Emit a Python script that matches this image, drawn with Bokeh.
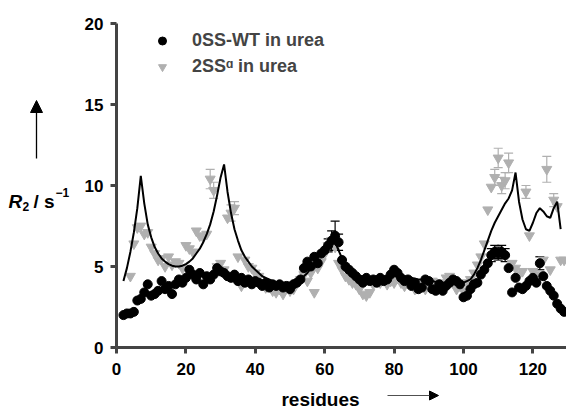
from bokeh.plotting import figure
from bokeh.models import (FixedTicker, Legend, LegendItem, Label, Arrow, NormalHead,
                          Whisker, TeeHead, ColumnDataSource, LinearAxis)
from bokeh.embed import file_html
from bokeh.resources import INLINE

# ---------------- data ----------------
wt_res = list(range(2, 130))
wt_r2 = [2.0, 2.1, 2.1, 2.2, 2.9, 3.0, 3.4, 3.9, 3.2, 3.3, 3.5, 4.1, 3.6, 3.8, 3.3, 3.9,
         4.2, 4.0, 4.3, 4.8, 4.5, 4.2, 4.6, 3.9, 4.4, 4.2, 4.5, 4.9, 4.7, 4.6, 4.4, 4.3,
         4.5, 4.1, 4.3, 4.0, 4.2, 3.9, 4.1, 4.0, 3.8, 4.0, 3.7, 3.9, 3.8, 3.9, 3.7, 3.8,
         3.6, 3.9, 4.0, 4.2, 4.9, 5.3, 5.0, 5.6, 5.2, 5.8, 6.0, 6.3, 6.6, 6.9, 6.5, 5.4,
         5.0, 4.8, 4.6, 4.4, 4.2, 4.0, 4.3, 4.1, 4.2, 4.0, 4.3, 4.1, 4.2, 4.5, 4.8, 4.6,
         4.3, 4.1, 4.2, 3.8, 4.0, 3.6, 3.7, 4.2, 4.1, 3.6, 3.5, 3.9, 3.5, 3.8, 4.0, 4.2,
         4.1, 3.9, 3.1, 3.2, 3.6, 3.9, 4.0, 4.5, 4.8, 5.2, 5.7, 5.9, 5.8, 5.9, 5.7, 4.9,
         3.4, 4.3, 3.7, 3.6, 3.8, 4.1, 4.3, 4.0, 5.2, 4.4, 3.8, 3.5, 3.2, 2.7, 2.4, 2.2]

ss_res = list(range(4, 130))
ss_r2 = [4.4, 6.4, 7.4, 7.5, 7.0, 7.1, 6.2, 5.8, 5.4, 5.5, 5.0, 5.6, 5.1, 5.3, 5.2, 4.9,
         6.3, 6.1, 5.9, 7.2, 6.9, 6.8, 7.0, 10.4, 9.7, 5.0, 5.2, 4.8, 8.0, 8.3, 8.6, 5.6,
         3.8, 5.4, 5.0, 4.9, 4.6, 4.4, 4.0, 3.7, 3.8, 3.5, 3.4, 3.6, 3.3, 3.7, 3.5, 3.6,
         4.0, 4.2, 4.5, 4.1, 4.6, 3.4, 4.9, 5.3, 5.8, 6.3, 6.6, 6.2, 5.2, 4.8, 4.4, 4.2,
         4.0, 3.9, 3.6, 3.3, 3.2, 3.4, 3.9, 4.1, 4.0, 4.2, 3.9, 4.1, 4.0, 4.3, 4.0, 3.8,
         4.1, 3.9, 3.6, 4.0, 3.8, 3.6, 3.9, 4.1, 3.8, 4.0, 3.7, 4.3, 4.4, 4.0, 3.6, 3.8,
         3.5, 4.0, 4.2, 4.6, 5.1, 5.6, 6.4, 8.5, 9.9, 10.5, 11.7, 10.0, 10.3, 11.4, 5.2,
         4.9, 4.5, 4.7, 9.6, 6.9, 4.7, 4.3, 4.5, 5.4, 11.0, 4.8, 9.1, 8.7, 5.4, 5.4]

fit_res = list(range(2, 130))
fit_r2 = [4.1, 4.9, 5.9, 7.1, 8.6, 10.6, 8.9, 7.6, 6.8, 6.2, 5.8, 5.5, 5.3, 5.15, 5.05,
          5.0, 5.0, 5.05, 5.15, 5.3, 5.5, 5.8, 6.1, 6.5, 7.0, 7.6, 8.4, 9.4, 10.5, 11.3,
          9.6, 8.3, 7.3, 6.6, 6.0, 5.6, 5.3, 5.0, 4.8, 4.6, 4.4, 4.3, 4.2, 4.1, 4.05, 4.0,
          4.0, 4.0, 4.0, 4.05, 4.1, 4.2, 4.4, 4.6, 4.9, 5.2, 5.6, 6.0, 6.3, 6.6, 6.7, 6.5,
          6.0, 5.5, 5.1, 4.8, 4.6, 4.5, 4.4, 4.35, 4.3, 4.3, 4.3, 4.3, 4.35, 4.4, 4.4, 4.45,
          4.5, 4.5, 4.45, 4.4, 4.35, 4.3, 4.25, 4.2, 4.2, 4.15, 4.1, 4.1, 4.05, 4.0, 4.0,
          4.0, 4.0, 4.0, 4.0, 4.0, 4.0, 4.1, 4.2, 4.5, 4.9, 5.4, 6.0, 6.6, 7.2, 7.7, 8.1,
          8.5, 8.9, 9.2, 9.7, 10.8, 9.0, 7.9, 7.3, 7.2, 7.7, 8.3, 8.6, 8.4, 8.1, 8.0, 8.6,
          9.0, 7.3]

wt_err_res = [61, 62, 63, 64, 108, 109, 110, 111, 112, 122]
wt_err_val = [6.3, 6.6, 6.9, 6.5, 5.7, 5.9, 5.8, 5.9, 5.7, 5.2]
wt_err = [0.4, 0.6, 0.9, 0.5, 0.4, 0.4, 0.4, 0.4, 0.4, 0.4]

ss_err_res = [27, 28, 33, 34, 109, 110, 111, 112, 113, 118, 124, 126]
ss_err_val = [10.4, 9.7, 8.3, 8.6, 10.5, 11.7, 10.0, 10.3, 11.4, 9.6, 11.0, 9.1]
ss_err = [0.6, 0.5, 0.5, 0.4, 0.5, 0.6, 0.5, 0.5, 0.6, 0.4, 0.8, 0.4]

x_ticks = [0, 20, 40, 60, 80, 100, 120]
y_ticks = [0, 5, 10, 15, 20]

FONT = "Liberation Sans"
GREY = "#b0b0b0"
AXIS = "#444444"

W, H = 566, 410
X0, XS, Y0, YS = 116, 3.47, 347, 16.2

p = figure(width=W, height=H,
           x_range=(-X0 / XS, (W - X0) / XS),
           y_range=((Y0 - H) / YS, Y0 / YS),
           x_axis_location=None, y_axis_location=None,
           output_backend="svg", toolbar_location=None, min_border=0)
p.outline_line_color = None
p.xgrid.visible = False
p.ygrid.visible = False
p.background_fill_color = "white"
p.border_fill_color = "white"

xaxis = LinearAxis(fixed_location=0, bounds=(0, (W - X0) / XS))
yaxis = LinearAxis(fixed_location=0, bounds=(0, 20))
for ax, ticks in ((xaxis, x_ticks), (yaxis, y_ticks)):
    ax.ticker = FixedTicker(ticks=ticks)
    ax.axis_line_color = AXIS
    ax.axis_line_width = 3
    ax.major_tick_line_color = AXIS
    ax.major_tick_line_width = 3
    ax.major_tick_out = 6
    ax.major_tick_in = 0
    ax.minor_tick_line_color = None
    ax.major_label_text_font = FONT
    ax.major_label_text_font_style = "bold"
    ax.major_label_text_font_size = "17px"
    ax.major_label_text_color = "black"
xaxis.major_label_standoff = 9
yaxis.major_label_standoff = 7
p.add_layout(xaxis, "below")
p.add_layout(yaxis, "left")

wt_src = ColumnDataSource(dict(x=wt_err_res,
                               lo=[v - e for v, e in zip(wt_err_val, wt_err)],
                               hi=[v + e for v, e in zip(wt_err_val, wt_err)]))
ss_src = ColumnDataSource(dict(x=ss_err_res,
                               lo=[v - e for v, e in zip(ss_err_val, ss_err)],
                               hi=[v + e for v, e in zip(ss_err_val, ss_err)]))
p.add_layout(Whisker(source=ss_src, base="x", lower="lo", upper="hi",
                     line_color=GREY, line_width=1.2,
                     upper_head=TeeHead(size=9, line_color=GREY, line_width=1.2),
                     lower_head=TeeHead(size=9, line_color=GREY, line_width=1.2)))
p.add_layout(Whisker(source=wt_src, base="x", lower="lo", upper="hi",
                     line_color="black", line_width=1.2,
                     upper_head=TeeHead(size=9, line_color="black", line_width=1.2),
                     lower_head=TeeHead(size=9, line_color="black", line_width=1.2)))

r_ss = p.scatter(ss_res, ss_r2, marker="inverted_triangle", size=10,
                 fill_color=GREY, line_color=GREY)
r_wt = p.scatter(wt_res, wt_r2, marker="circle", size=9,
                 fill_color="black", line_color="black")
p.line(fit_res, fit_r2, line_color="black", line_width=2)

legend = Legend(items=[LegendItem(label="0SS-WT in urea", renderers=[r_wt]),
                       LegendItem(label="2SS\u1d45 in urea", renderers=[r_ss])],
                location=(152, H - 77), padding=0, margin=0, spacing=5,
                glyph_width=20, glyph_height=21, label_standoff=20,
                label_text_font=FONT, label_text_font_style="bold",
                label_text_font_size="18px", border_line_color=None,
                background_fill_alpha=0)
p.add_layout(legend)

lab_style = dict(x_units="screen", y_units="screen", text_font=FONT,
                 text_color="black", text_baseline="alphabetic")
p.add_layout(Label(x=8, y=H - 201, text="R", text_font_style="bold italic",
                   text_font_size="19px", **lab_style))
p.add_layout(Label(x=22, y=H - 206, text="2", text_font_style="bold",
                   text_font_size="12px", **lab_style))
p.add_layout(Label(x=33, y=H - 201, text="/ s", text_font_style="bold",
                   text_font_size="19px", **lab_style))
p.add_layout(Label(x=55, y=H - 192, text="\u22121", text_font_style="bold",
                   text_font_size="12px", **lab_style))
p.add_layout(Arrow(x_start=36, y_start=H - 158, x_end=36, y_end=H - 100,
                   start_units="screen", end_units="screen",
                   line_color="black", line_width=1.3,
                   end=NormalHead(size=12, fill_color="black", line_color="black")))

p.add_layout(Label(x=320, y=H - 399, text="residues", x_units="screen", y_units="screen",
                   text_font=FONT, text_font_style="bold", text_font_size="19px",
                   text_align="center", text_baseline="alphabetic", text_color="black"))
p.add_layout(Arrow(x_start=387, y_start=H - 395, x_end=438, y_end=H - 395,
                   start_units="screen", end_units="screen",
                   line_color="#505050", line_width=1.2,
                   end=NormalHead(size=9, fill_color="black", line_color="black")))

open("out.html", "w").write(file_html(p, INLINE))
